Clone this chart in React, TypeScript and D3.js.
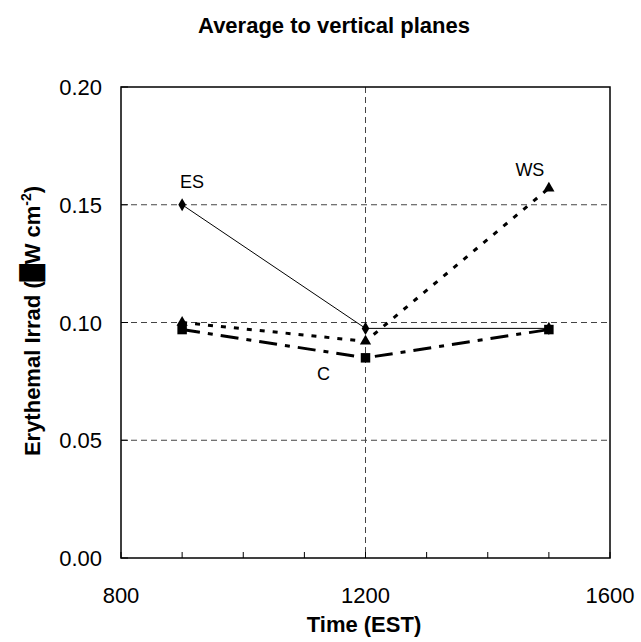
import React, { useEffect, useRef } from "react";
import * as d3 from "d3";

const times = [900, 1200, 1500];
const esValues = [0.15, 0.0975, 0.0975];
const wsValues = [0.1, 0.092, 0.157];
const cValues = [0.097, 0.085, 0.097];
const xTicks = [800, 1200, 1600];
const xMinorTicks = [900, 1000, 1100, 1300, 1400, 1500];
const yTicks = [0, 0.05, 0.1, 0.15, 0.2];

const App = () => {
  const ref = useRef<SVGSVGElement>(null);

  useEffect(() => {
    const svg = d3.select(ref.current);
    svg.selectAll("*").remove();

    const left = 121, right = 610, top = 87, bottom = 558;
    const font = "Liberation Sans, Arial, sans-serif";

    const x = d3.scaleLinear().domain([800, 1600]).range([left, right]);
    const y = d3.scaleLinear().domain([0, 0.2]).range([bottom, top]);

    // gridlines
    svg
      .selectAll(".hgrid")
      .data(yTicks.filter((d) => d > 0 && d < 0.2))
      .join("line")
      .attr("x1", left)
      .attr("x2", right)
      .attr("y1", (d) => y(d))
      .attr("y2", (d) => y(d))
      .attr("stroke", "#444")
      .attr("stroke-dasharray", "6,4");

    svg
      .append("line")
      .attr("x1", x(1200))
      .attr("x2", x(1200))
      .attr("y1", top)
      .attr("y2", bottom)
      .attr("stroke", "#444")
      .attr("stroke-dasharray", "6,4");

    // frame
    svg
      .append("rect")
      .attr("x", left)
      .attr("y", top)
      .attr("width", right - left)
      .attr("height", bottom - top)
      .attr("fill", "none")
      .attr("stroke", "#000")
      .attr("stroke-width", 1.5);

    // ticks (inside)
    svg
      .selectAll(".ytick")
      .data(yTicks)
      .join("line")
      .attr("x1", left)
      .attr("x2", left + 7)
      .attr("y1", (d) => y(d))
      .attr("y2", (d) => y(d))
      .attr("stroke", "#000");

    svg
      .selectAll(".xtick")
      .data(xTicks.concat(xMinorTicks))
      .join("line")
      .attr("x1", (d) => x(d))
      .attr("x2", (d) => x(d))
      .attr("y1", bottom)
      .attr("y2", bottom - 6)
      .attr("stroke", "#000");

    // tick labels
    svg
      .selectAll(".ylab")
      .data(yTicks)
      .join("text")
      .attr("x", left - 19)
      .attr("y", (d) => y(d) + 8)
      .attr("text-anchor", "end")
      .attr("font-family", font)
      .attr("font-size", 22)
      .text((d) => d3.format(".2f")(d));

    svg
      .selectAll(".xlab")
      .data(xTicks)
      .join("text")
      .attr("x", (d) => x(d))
      .attr("y", bottom + 45)
      .attr("text-anchor", "middle")
      .attr("font-family", font)
      .attr("font-size", 22)
      .text((d) => d);

    // series lines
    const line = d3
      .line<number>()
      .x((_, i) => x(times[i]))
      .y((d) => y(d));

    svg
      .append("path")
      .attr("d", line(cValues))
      .attr("fill", "none")
      .attr("stroke", "#000")
      .attr("stroke-width", 3)
      .attr("stroke-dasharray", "18,8,5,8");

    svg
      .append("path")
      .attr("d", line(wsValues))
      .attr("fill", "none")
      .attr("stroke", "#000")
      .attr("stroke-width", 3)
      .attr("stroke-dasharray", "5,8");

    svg
      .append("path")
      .attr("d", line(esValues))
      .attr("fill", "none")
      .attr("stroke", "#000")
      .attr("stroke-width", 1);

    // markers
    const markers = (vals: number[], type: d3.SymbolType, size: number) =>
      svg
        .append("g")
        .selectAll("path")
        .data(vals)
        .join("path")
        .attr("transform", (d, i) => `translate(${x(times[i])},${y(d)})`)
        .attr("d", d3.symbol(type, size)())
        .attr("fill", "#000");

    markers(esValues, d3.symbolDiamond, 50);
    markers(wsValues, d3.symbolTriangle, 55);
    markers(cValues, d3.symbolSquare, 90);

    // series labels
    const labels = [
      { t: "ES", xv: 900, yv: esValues[0], dx: 10, dy: -17 },
      { t: "WS", xv: 1500, yv: wsValues[2], dx: -19, dy: -12 },
      { t: "C", xv: 1200, yv: cValues[1], dx: -42, dy: 22 },
    ];
    svg
      .selectAll(".slab")
      .data(labels)
      .join("text")
      .attr("x", (d) => x(d.xv) + d.dx)
      .attr("y", (d) => y(d.yv) + d.dy)
      .attr("text-anchor", "middle")
      .attr("font-family", font)
      .attr("font-size", 18)
      .text((d) => d.t);

    // title
    svg
      .append("text")
      .attr("x", 334)
      .attr("y", 33)
      .attr("text-anchor", "middle")
      .attr("font-family", font)
      .attr("font-size", 22)
      .attr("font-weight", "bold")
      .text("Average to vertical planes");

    // axis titles
    svg
      .append("text")
      .attr("x", 364)
      .attr("y", 632)
      .attr("text-anchor", "middle")
      .attr("font-family", font)
      .attr("font-size", 22)
      .attr("font-weight", "bold")
      .text("Time (EST)");

    const yt = svg
      .append("text")
      .attr("transform", "translate(40,321) rotate(-90)")
      .attr("text-anchor", "middle")
      .attr("font-family", font)
      .attr("font-size", 22)
      .attr("font-weight", "bold");
    yt.append("tspan").text("Erythemal Irrad (");
    yt.append("tspan").attr("font-family", "DejaVu Sans").text("\u2588");
    yt.append("tspan").text("W cm");
    yt.append("tspan").attr("dy", -9).attr("font-size", 14).text("-2");
    yt.append("tspan").attr("dy", 9).text(")");
  }, []);

  return <svg ref={ref} width={641} height={642} style={{ position: "absolute", left: 0, top: 0, background: "#fff" }} />;
};

export default App;
